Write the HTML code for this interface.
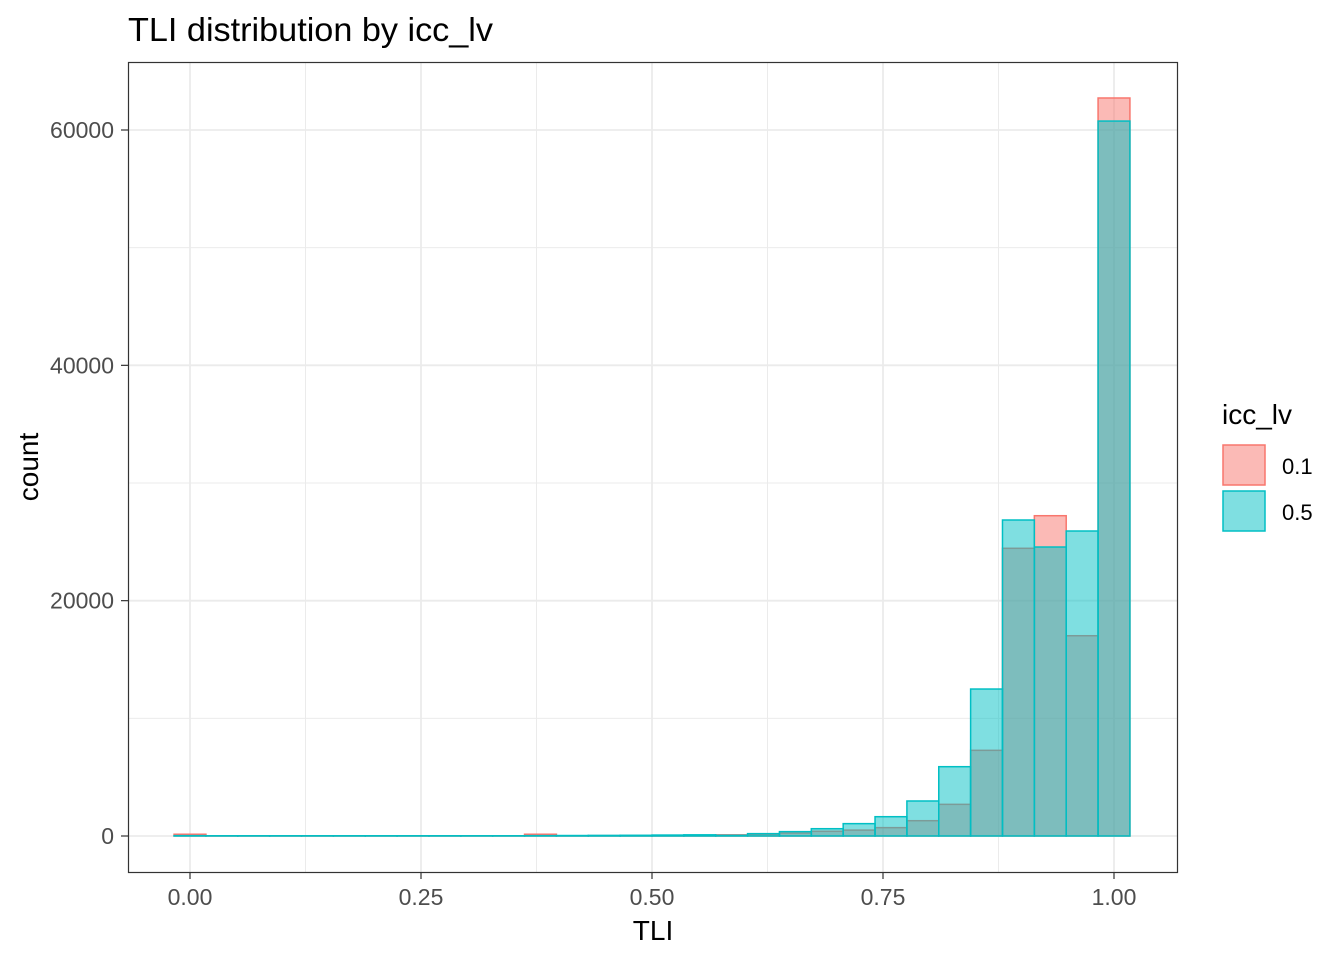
<!DOCTYPE html>
<html><head><meta charset="utf-8"><style>
body{margin:0;background:#fff;font-family:"Liberation Sans",Arial,sans-serif}
</style></head><body>
<svg id="chart" width="1344" height="960" xmlns="http://www.w3.org/2000/svg" font-family="Liberation Sans, Arial, sans-serif">
<text x="128" y="41" font-size="33" textLength="365" lengthAdjust="spacingAndGlyphs" fill="#000">TLI distribution by icc_lv</text>
<g id="grid"></g>
<g id="bars"></g>
<rect x="128.5" y="62.5" width="1049" height="810" fill="none" stroke="#333" stroke-width="1.2"/>
<g id="axes"></g>
<text x="653" y="940" font-size="28" text-anchor="middle">TLI</text>
<text transform="translate(38,467) rotate(-90)" font-size="28" text-anchor="middle">count</text>
<g>
<text x="1222" y="424" font-size="28">icc_lv</text>
<rect x="1223" y="445" width="42" height="40" fill="#F8766D" fill-opacity="0.5" stroke="#F8766D" stroke-width="1.5"/>
<text x="1282" y="474" font-size="22">0.1</text>
<rect x="1223" y="491" width="42" height="40" fill="#00BFC4" fill-opacity="0.5" stroke="#00BFC4" stroke-width="1.5"/>
<text x="1282" y="520" font-size="22">0.5</text>
</g>
</svg>
<script>
const binCenters = Array.from({length:30},(_, i)=>i/29);
const red01 = [150,20,20,20,20,20,20,20,20,20,20,150,20,30,30,40,60,100,150,250,400,500,710,1300,2690,7280,24450,27220,17020,62720];
const blue05 = [30,20,20,20,20,20,20,20,20,20,20,30,40,50,60,80,100,60,200,370,620,1050,1640,2975,5890,12490,26855,24560,25920,60760];
const xTicks = [0,0.25,0.5,0.75,1];
const xTickLabels = ["0.00","0.25","0.50","0.75","1.00"];
const yTicks = [0,20000,40000,60000];
const yTickLabels = ["0","20000","40000","60000"];

const NS="http://www.w3.org/2000/svg";
const X=v=>190+v*924;
const Y=v=>836-v*706/60000;
function mk(tag,attrs,parent){const e=document.createElementNS(NS,tag);for(const k in attrs)e.setAttribute(k,attrs[k]);parent.appendChild(e);return e;}
const grid=document.getElementById('grid'),bars=document.getElementById('bars'),axes=document.getElementById('axes');
[0.125,0.375,0.625,0.875].forEach(v=>{const l=mk('line',{x1:X(v),x2:X(v),y1:63,y2:872,stroke:'#ebebeb','stroke-width':1},grid);

});
[10000,30000,50000].forEach(v=>{const l=mk('line',{x1:129,x2:1177,y1:Y(v),y2:Y(v),stroke:'#ebebeb','stroke-width':1},grid);

});
xTicks.forEach((v,i)=>{const l=mk('line',{x1:X(v),x2:X(v),y1:63,y2:872,stroke:'#ebebeb','stroke-width':1.8},grid);


const t=mk('line',{x1:X(v),x2:X(v),y1:872,y2:879,stroke:'#333','stroke-width':1.2},axes);


const tx=mk('text',{x:X(v),y:905,'font-size':23,'text-anchor':'middle',fill:'#4d4d4d'},axes);tx.textContent=xTickLabels[i];

});
yTicks.forEach((v,i)=>{const l=mk('line',{x1:129,x2:1177,y1:Y(v),y2:Y(v),stroke:'#ebebeb','stroke-width':1.8},grid);


const t=mk('line',{x1:121,x2:128,y1:Y(v),y2:Y(v),stroke:'#333','stroke-width':1.2},axes);


const tx=mk('text',{x:114,y:Y(v)+8,'font-size':23,'text-anchor':'end',fill:'#4d4d4d'},axes);tx.textContent=yTickLabels[i];

});
const w=924/29;
function series(vals,col,name){vals.forEach((v,i)=>{const x0=X(binCenters[i])-w/2;
const r=mk('rect',{x:x0,y:Y(v),width:w,height:Y(0)-Y(v),fill:col,'fill-opacity':0.5,stroke:col,'stroke-width':1.5},bars);

});}
series(red01,'#F8766D','icc-0.1');
series(blue05,'#00BFC4','icc-0.5');
</script>
</body></html>
